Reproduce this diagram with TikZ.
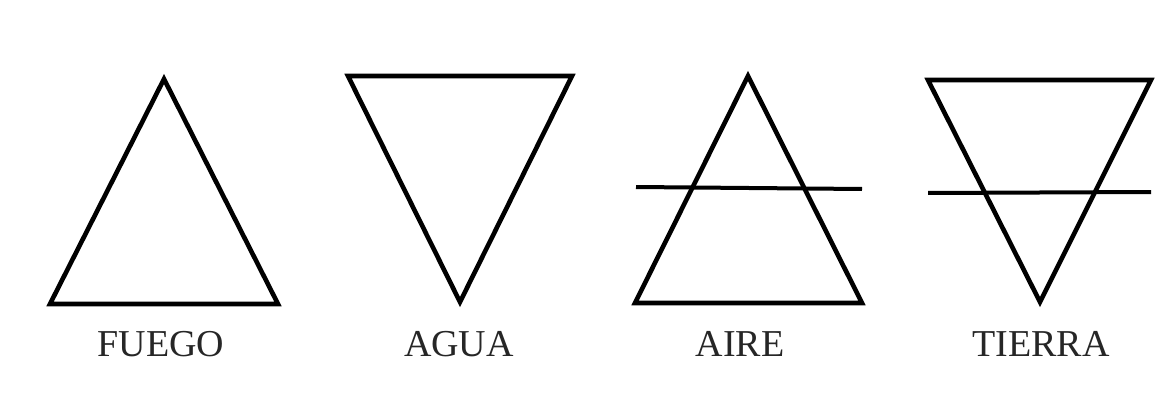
\documentclass[tikz,border=0pt]{standalone}
\usepackage{fontspec}
\setmainfont{Liberation Serif}
\usepackage{tikz}
\usepackage{xcolor}

\begin{document}
\begin{tikzpicture}[
  x=1pt, y=-1pt,
  sym/.style={line width=4.6pt, line join=miter},
  bar/.style={line width=4pt},
  lbl/.style={anchor=base, font=\fontsize{38}{40}\selectfont, text=black!85, inner sep=0pt}
]
\useasboundingbox[fill=white] (0,0) rectangle (1176,404);
% fuego
\draw[sym] (164,79) -- (278,304) -- (50,304) -- cycle;
\node[lbl] (fuego) at (161,356) {FUEGO};
% agua
\draw[sym] (348,76) -- (572,76) -- (460,302) -- cycle;
\node[lbl] (agua) at (459,356) {AGUA};
% aire
\draw[sym] (748,76) -- (862,303) -- (635,303) -- cycle;
\draw[bar] (636,187) -- (862,189);
\node[lbl] (aire) at (740,356) {AIRE};
% tierra
\draw[sym] (928,80) -- (1151,80) -- (1040,302) -- cycle;
\draw[bar] (928,193) -- (1151,192);
\node[lbl] (tierra) at (1041,356) {TIERRA};
\end{tikzpicture}
\end{document}
